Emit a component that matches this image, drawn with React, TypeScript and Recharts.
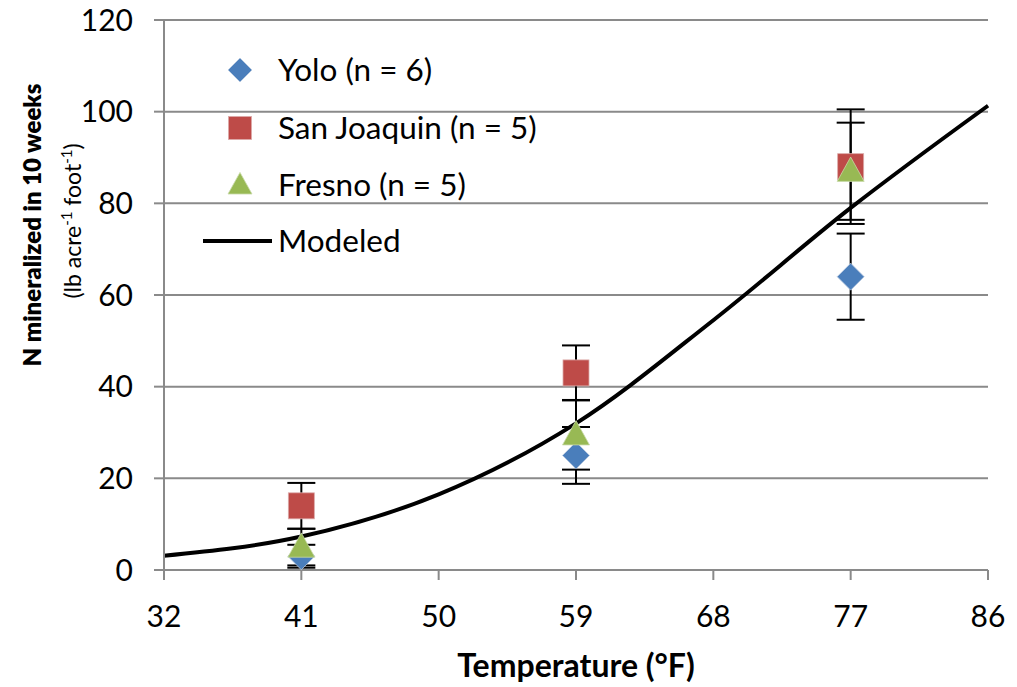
import React from "react";
import {
  ComposedChart,
  Line,
  Scatter,
  ErrorBar,
  XAxis,
  YAxis,
  CartesianGrid,
  Legend,
} from "recharts";

const xTicks = [32, 41, 50, 59, 68, 77, 86];
const yTicks = [0, 20, 40, 60, 80, 100, 120];

const temps = [41, 59, 77];
const yoloValues = [3, 25, 64];
const yoloErrors = [2.5, 6.2, 9.4];
const sanJoaquinValues = [14, 43, 88];
const sanJoaquinErrors = [5, 6, 12.5];
const fresnoValues = [5, 29.5, 87];
const fresnoErrors = [4, 7.6, 10.6];

const modelTemps = [32, 41, 50, 59, 68, 77, 86];
const modelValues = [3.1, 7.3, 16.5, 32, 54.5, 79, 101.3];

const seriesNames = ["Yolo (n = 6)", "San Joaquin (n = 5)", "Fresno (n = 5)", "Modeled"];

const build = (vals: number[], errs: number[]) =>
  temps.map((t, i) => ({ x: t, y: vals[i], err: errs[i] }));

const yoloData = build(yoloValues, yoloErrors);
const sjData = build(sanJoaquinValues, sanJoaquinErrors);
const fresnoData = build(fresnoValues, fresnoErrors);
const modelData = modelTemps.map((t, i) => ({ x: t, y: modelValues[i] }));

const BLUE = "#4a7ebb";
const RED = "#be4b48";
const GREEN = "#98b954";
const GRID = "#8a8a8a";
const FONT = "Lato, 'Open Sans', sans-serif";

const Diamond = ({ cx, cy, r = 13.5, fill = BLUE }: any) => (
  <path
    d={`M${cx},${cy - r} L${cx + r},${cy} L${cx},${cy + r} L${cx - r},${cy} Z`}
    fill={fill}
    stroke="#b9c9e0"
    strokeWidth={0.8}
  />
);
const Square = ({ cx, cy, r = 13, fill = RED }: any) => (
  <rect x={cx - r} y={cy - r} width={2 * r} height={2 * r} fill={fill} stroke="#dcaaa9" strokeWidth={0.8} />
);
const Triangle = ({ cx, cy, r = 13.5, fill = GREEN }: any) => (
  <path
    d={`M${cx},${cy - r * 1.05} L${cx + r},${cy + r * 0.75} L${cx - r},${cy + r * 0.75} Z`}
    fill={fill}
    stroke="#c8d9a8"
    strokeWidth={0.8}
  />
);

const LegendContent = () => {
  const rows = [70, 128, 185, 241];
  return (
    <svg width={420} height={280} style={{ overflow: "visible", display: "block" }}>
      <Diamond cx={40} cy={rows[0]} r={12} />
      <Square cx={40} cy={rows[1]} r={11.5} />
      <Triangle cx={40} cy={rows[2]} r={12} />
      <line x1={3} x2={72} y1={rows[3]} y2={rows[3]} stroke="#000" strokeWidth={4} />
      {seriesNames.map((n, i) => (
        <text
          key={n}
          x={78}
          y={rows[i]}
          dy="0.36em"
          fontFamily={FONT}
          fontSize={31.5}
          fill="#000"
        >
          {n}
        </text>
      ))}
    </svg>
  );
};

export default function App() {
  return (
    <div style={{ position: "absolute", left: 0, top: 0, width: 1017, height: 687, background: "#fff" }}>
      <ComposedChart
        width={1017}
        height={687}
        margin={{ top: 20, right: 29, bottom: 37, left: 0 }}
      >
        <CartesianGrid vertical={false} stroke={GRID} strokeWidth={2} />
        <XAxis
          type="number"
          dataKey="x"
          domain={[32, 86]}
          ticks={xTicks}
          interval={0}
          height={80}
          axisLine={{ stroke: GRID, strokeWidth: 2 }}
          tickLine={{ stroke: GRID, strokeWidth: 2 }}
          tickSize={10}
          tickMargin={26}
          tick={{ fill: "#000", fontSize: 30, fontFamily: FONT }}
          label={{
            value: "Temperature (°F)",
            position: "insideBottom",
            offset: -27,
            style: { fontFamily: FONT, fontSize: 32, fontWeight: 700, fill: "#000" },
          }}
        />
        <YAxis
          type="number"
          domain={[0, 120]}
          ticks={yTicks}
          interval={0}
          width={164}
          axisLine={{ stroke: GRID, strokeWidth: 2 }}
          tickLine={{ stroke: GRID, strokeWidth: 2 }}
          tickSize={10}
          tickMargin={21}
          tick={{ fill: "#000", fontSize: 30, fontFamily: FONT }}
          label={{
            content: () => (
              <g>
                <text
                  transform="translate(41,225) rotate(-90)"
                  textAnchor="middle"
                  fontFamily={FONT}
                  fontSize={24}
                  fontWeight={800}
                  fill="#000"
                >
                  N mineralized in 10 weeks
                </text>
                <text
                  transform="translate(81,221) rotate(-90)"
                  textAnchor="middle"
                  fontFamily={FONT}
                  fontSize={23}
                  fill="#000"
                >
                  (lb acre
                  <tspan fontSize={15} dy={-9}>-1</tspan>
                  <tspan dy={9}> foot</tspan>
                  <tspan fontSize={15} dy={-9}>-1</tspan>
                  <tspan dy={9}>)</tspan>
                </text>
              </g>
            ),
          }}
        />
        <Legend
          layout="vertical"
          align="center"
          verticalAlign="middle"
          content={<LegendContent />}
          wrapperStyle={{ position: "absolute", left: 200, top: 0, width: 420, height: 280, margin: 0, padding: 0 }}
        />
        <Line
          data={modelData}
          dataKey="y"
          type="monotone"
          stroke="#000"
          strokeWidth={4}
          dot={false}
          activeDot={false}
          isAnimationActive={false}
          legendType="none"
        />
        <Scatter
          data={yoloData}
          dataKey="y"
          isAnimationActive={false}
          shape={(p: any) => <Diamond cx={p.cx} cy={p.cy} />}
        >
          <ErrorBar dataKey="err" direction="y" width={14} stroke="#000" strokeWidth={2} />
        </Scatter>
        <Scatter
          data={sjData}
          dataKey="y"
          isAnimationActive={false}
          shape={(p: any) => <Square cx={p.cx} cy={p.cy} />}
        >
          <ErrorBar dataKey="err" direction="y" width={14} stroke="#000" strokeWidth={2} />
        </Scatter>
        <Scatter
          data={fresnoData}
          dataKey="y"
          isAnimationActive={false}
          shape={(p: any) => <Triangle cx={p.cx} cy={p.cy} />}
        >
          <ErrorBar dataKey="err" direction="y" width={14} stroke="#000" strokeWidth={2} />
        </Scatter>
      </ComposedChart>
    </div>
  );
}
